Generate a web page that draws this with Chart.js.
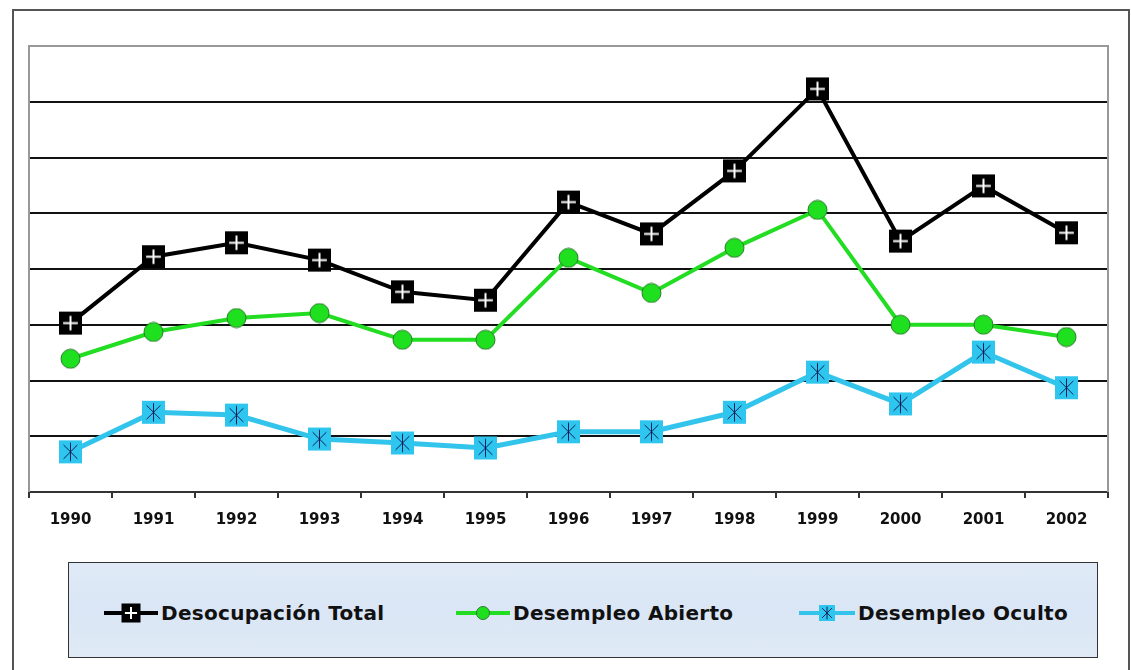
<!DOCTYPE html>
<html>
<head>
<meta charset="utf-8">
<script src="https://cdn.jsdelivr.net/npm/chart.js@4.4.1/dist/chart.umd.min.js"></script>
<style>
  body { margin: 0; background: #fff; width: 1131px; height: 670px; overflow: hidden; position: relative; }
  #frame { position: absolute; left: 12px; top: 9px; width: 1114px; height: 700px; border: 2px solid #555; }
  #chartBox { position: absolute; left: 0; top: 0; }
  #legend { position: absolute; left: 68px; top: 562px; width: 1028px; height: 94px; border: 1px solid #333;
    background: linear-gradient(180deg, #e0eaf7 0%, #dae6f5 50%, #e0eaf6 100%); }
  .item { position: absolute; top: 38px; height: 24px; display: flex; align-items: center; }
  .item span { font-family: "DejaVu Sans", sans-serif; font-weight: bold; font-size: 20px; color: #111; margin-left: 3px; white-space: nowrap; letter-spacing: 0.3px; }
</style>
</head>
<body>
<div id="frame"></div>
<div id="chartBox"><canvas id="grafico" width="1131" height="545"></canvas></div>
<div id="legend">
  <div class="item" style="left:35px"><canvas id="ic0" width="54" height="24"></canvas><span>Desocupación Total</span></div>
  <div class="item" style="left:387px"><canvas id="ic1" width="54" height="24"></canvas><span>Desempleo Abierto</span></div>
  <div class="item" style="left:730px"><canvas id="ic2" width="56" height="24"></canvas><span>Desempleo Oculto</span></div>
</div>
<script>
const anos = ['1990', '1991', '1992', '1993', '1994', '1995', '1996', '1997', '1998', '1999', '2000', '2001', '2002'];
const desocupacionTotal = [3.03, 4.22, 4.47, 4.16, 3.59, 3.44, 5.20, 4.63, 5.76, 7.23, 4.50, 5.49, 4.65];
const desempleoAbierto = [2.39, 2.87, 3.12, 3.21, 2.73, 2.73, 4.20, 3.57, 4.38, 5.06, 3.00, 3.00, 2.78];
const desempleoOculto = [0.72, 1.43, 1.38, 0.95, 0.88, 0.79, 1.08, 1.08, 1.43, 2.15, 1.58, 2.51, 1.87];
const yMin = 0, yMax = 8, yPaso = 1;

const NEGRO = '#000000';
const VERDE = '#22dd22';
const CIAN = '#33c4ec';

// dibuja un marcador en (cx, cy)
function dibujarMarcador(ctx, tipo, cx, cy, t) {
    const h = t / 2;
    if (tipo === 'total') {
        ctx.fillStyle = '#000';
        ctx.fillRect(cx - h, cy - h, t, t);
        ctx.strokeStyle = '#fff';
        ctx.lineWidth = 2;
        const b = t * 0.32;
        ctx.beginPath();
        ctx.moveTo(cx - b, cy); ctx.lineTo(cx + b, cy);
        ctx.moveTo(cx, cy - b); ctx.lineTo(cx, cy + b);
        ctx.stroke();
    } else if (tipo === 'abierto') {
        ctx.fillStyle = '#1fe01f';
        ctx.strokeStyle = '#2a7a2a';
        ctx.lineWidth = 1;
        ctx.beginPath();
        ctx.arc(cx, cy, h, 0, Math.PI * 2);
        ctx.fill();
        ctx.stroke();
    } else {
        ctx.fillStyle = '#2ec6ee';
        ctx.fillRect(cx - h, cy - h, t, t);
        ctx.strokeStyle = '#10205a';
        ctx.lineWidth = 1;
        const b = t * 0.4;
        ctx.beginPath();
        ctx.moveTo(cx, cy - b); ctx.lineTo(cx, cy + b);
        ctx.moveTo(cx - b * 0.75, cy - b * 0.75); ctx.lineTo(cx + b * 0.75, cy + b * 0.75);
        ctx.moveTo(cx + b * 0.75, cy - b * 0.75); ctx.lineTo(cx - b * 0.75, cy + b * 0.75);
        ctx.stroke();
    }
}

function crearImagen(tipo, t) {
    const c = document.createElement('canvas');
    c.width = t + 2; c.height = t + 2;
    dibujarMarcador(c.getContext('2d'), tipo, (t + 2) / 2, (t + 2) / 2, t);
    return c;
}

// iconos de la leyenda
const iconos = [['ic0', 'total', NEGRO, 19, 4], ['ic1', 'abierto', VERDE, 13, 4], ['ic2', 'oculto', CIAN, 16, 4]];
iconos.forEach(([id, tipo, color, t, lw]) => {
    const cv = document.getElementById(id);
    const ctx = cv.getContext('2d');
    ctx.strokeStyle = color;
    ctx.lineWidth = lw;
    ctx.beginPath();
    ctx.moveTo(0, 12); ctx.lineTo(cv.width, 12);
    ctx.stroke();
    dibujarMarcador(ctx, tipo, cv.width / 2, 12, t);
});

const marcoPlugin = {
    id: 'marco',
    beforeDatasetsDraw(chart) {
        const { ctx, chartArea: a } = chart;
        ctx.save();
        ctx.strokeStyle = '#999';
        ctx.lineWidth = 2;
        ctx.beginPath();
        ctx.moveTo(a.left, a.bottom); ctx.lineTo(a.left, a.top);
        ctx.lineTo(a.right, a.top); ctx.lineTo(a.right, a.bottom);
        ctx.stroke();
        ctx.restore();
    }
};

new Chart(document.getElementById('grafico').getContext('2d'), {
    type: 'line',
    data: {
        labels: anos,
        datasets: [
            { label: 'Desocupación Total', data: desocupacionTotal, borderColor: NEGRO, borderWidth: 4,
              pointStyle: crearImagen('total', 23), pointRadius: 12 },
            { label: 'Desempleo Abierto', data: desempleoAbierto, borderColor: VERDE, borderWidth: 4,
              pointStyle: crearImagen('abierto', 19), pointRadius: 10 },
            { label: 'Desempleo Oculto', data: desempleoOculto, borderColor: CIAN, borderWidth: 5,
              pointStyle: crearImagen('oculto', 23), pointRadius: 12 }
        ]
    },
    options: {
        responsive: false,
        animation: false,
        events: [],
        layout: { padding: { left: 29, top: 46, right: 23, bottom: 0 } },
        plugins: { legend: { display: false }, tooltip: { enabled: false } },
        scales: {
            x: {
                offset: true,
                grid: { offset: true, drawOnChartArea: false, drawTicks: true, tickLength: 6, color: '#333', lineWidth: 2 },
                border: { display: true, color: '#333', width: 2 },
                ticks: { color: '#111', padding: 13, maxRotation: 0, autoSkip: false,
                         font: { family: 'DejaVu Sans', weight: 'bold', size: 15 } },
                afterFit: s => { s.height = 53; }
            },
            y: {
                min: yMin, max: yMax,
                ticks: { stepSize: yPaso, display: false },
                grid: { drawTicks: false, lineWidth: 2,
                        color: c => (c.tick.value === yMin || c.tick.value === yMax) ? 'rgba(0,0,0,0)' : '#111' },
                border: { display: false },
                afterFit: s => { s.width = 0; }
            }
        }
    },
    plugins: [marcoPlugin]
});
</script>
</body>
</html>
